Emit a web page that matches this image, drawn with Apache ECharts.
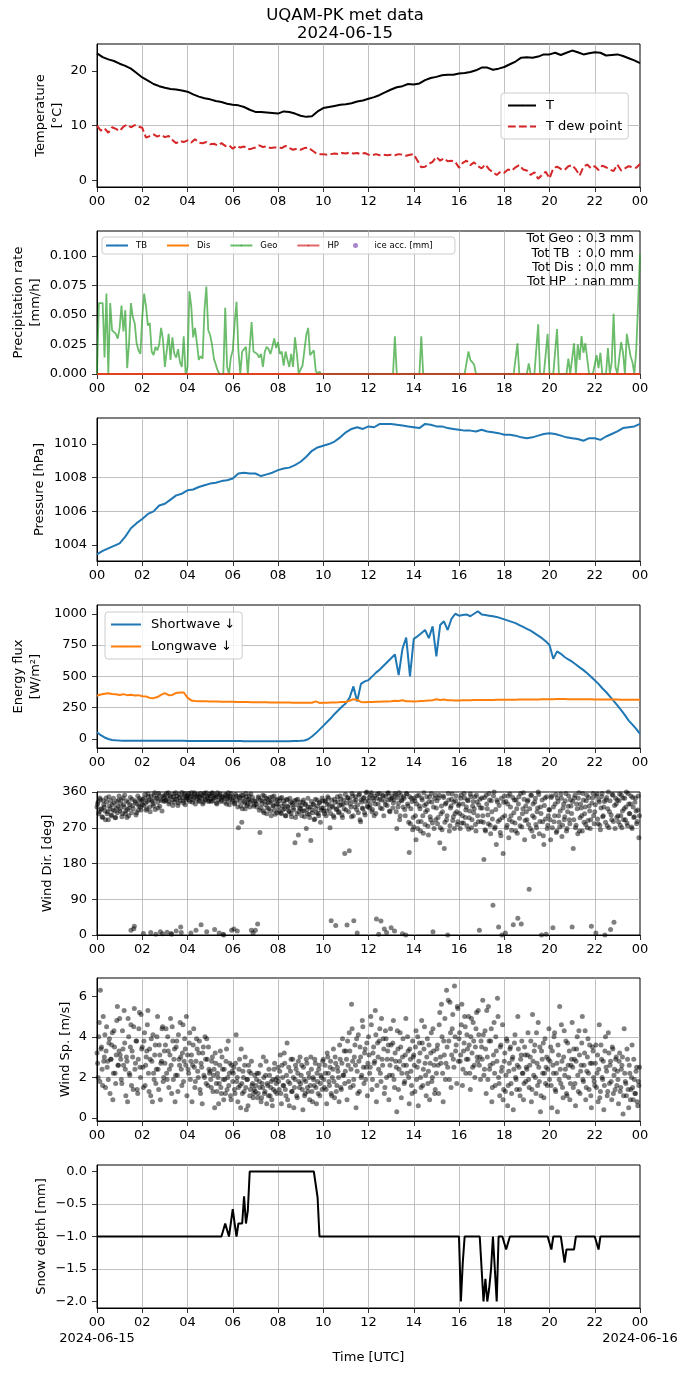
<!DOCTYPE html>
<html>
<head>
<meta charset="utf-8">
<script src="https://cdn.jsdelivr.net/npm/echarts@6/dist/echarts.min.js"></script>
<style>
html, body { margin: 0; padding: 0; background: #fff; }
#main { width: 690px; height: 1377px; }
</style>
</head>
<body>
<div id="main"></div>
<script>
var FONT = 'DejaVu Sans';

// temperature, every 15 min
var tempT = [
  23.2, 22.5, 22.1, 21.8,  21.3, 20.9, 20.4, 19.6,  18.8, 18.2, 17.6, 17.2,
  16.9, 16.7, 16.6, 16.4,  16.2, 15.7, 15.3, 15.0,  14.8, 14.5, 14.3, 14.0,
  13.8, 13.7, 13.4, 12.9,  12.5, 12.5, 12.4, 12.3,  12.2, 12.6, 12.5, 12.2,
  11.8, 11.6, 11.7, 12.6,  13.2, 13.4, 13.6, 13.8,  13.9, 14.1, 14.4, 14.6,
  14.9, 15.2, 15.6, 16.1,  16.6, 17.0, 17.2, 17.6,  17.5, 17.7, 18.3, 18.7,
  18.9, 19.2, 19.3, 19.3,  19.5, 19.6, 19.8, 20.1,  20.6, 20.6, 20.2, 20.4,
  20.7, 21.2, 21.7, 22.4,  22.5, 22.4, 22.6, 23.0,  23.0, 23.3, 22.9, 23.3,
  23.7, 23.4, 23.0, 23.2,  23.4, 23.3, 22.8, 22.9,  23.0, 22.7, 22.3, 21.9,
  21.4
];
// dew point, every 10 min
var tempDew = [
  10.0, 9.1, 9.5, 8.7, 9.7, 9.4,   9.0, 9.8, 10.2, 9.7, 10.1, 9.8,
  9.6, 7.8, 8.1, 8.4, 8.0, 8.3,    7.9, 8.1, 7.4, 6.8, 7.2, 7.0,
  7.3, 6.9, 7.5, 6.9, 6.8, 7.0,    6.6, 6.7, 6.4, 6.8, 6.3, 6.4,
  5.8, 6.3, 6.0, 6.2, 5.7, 5.8,    6.0, 6.4, 6.1, 6.2, 5.9, 6.0,
  6.0, 5.9, 6.3, 5.9, 5.6, 5.8,    5.6, 5.9, 6.0, 5.5, 5.0, 4.8,
  4.8, 4.7, 4.8, 4.9, 4.8, 5.0,    4.9, 5.1, 4.9, 5.0, 4.8, 5.0,
  4.7, 4.6, 4.8, 4.6, 4.7, 4.6,    4.7, 4.6, 4.8, 4.7, 4.5, 4.7,
  4.8, 3.6, 2.4, 2.5, 3.0, 3.4,    4.3, 3.6, 4.0, 3.5, 3.6, 3.4,
  2.3, 3.2, 3.6, 2.8, 3.3, 2.6,    2.2, 2.9, 2.0, 1.5, 1.0, 1.6,
  1.4, 2.0, 1.8, 2.4, 2.8, 2.0,    1.8, 1.0, 1.5, 0.3, 1.0, 1.6,
  0.4, 2.2, 2.5, 2.1, 1.9, 2.6,    2.8, 2.0, 0.9, 2.5, 2.9, 2.2,
  2.6, 1.9, 2.7, 2.4, 2.0, 1.7,    2.9, 1.8, 2.2, 2.6, 2.4, 2.3,
  3.0
];

// precipitation rate, every 5 min
var geoRate = [
  0, .060, .059, .060, .014, .068, 0, .060, .037, .036, .034, .030,
  .039, .058, .036, .054, .005, .026, .060, .048, .043, .026, .020, .017,
  .048, .068, .057, .041, .043, .019, .016, .023, .020, .025, .039, .029,
  .006, .005, .034, .012, .031, .017, .014, .021, .010, .006, .032, 0,
  .006, .070, .057, .031, .039, .026, .012, .015, .013, .054, .074, .037,
  .033, .025, .013, .012, .003, 0, 0, 0, .056, .006, 0, .014,
  .020, .043, .061, .020, 0, .019, .021, .023, 0, .023, .044, .019,
  .020, .017, .014, .017, .006, .019, .023, .021, .017, .023, .030, .022,
  .027, .017, .019, .007, .019, .012, .006, .017, .006, .031, .017, 0,
  .004, .007, .020, .033, .039, .016, .017, .020, .003, 0, .002, 0,
  0, 0, 0, 0, 0, 0, 0, 0, 0, 0, 0, 0,
  0, 0, 0, 0, 0, 0, 0, 0, 0, 0, 0, 0,
  0, 0, 0, 0, 0, 0, 0, 0, 0, 0, 0, 0,
  0, 0, .032, 0, 0, 0, 0, 0, 0, 0, 0, 0,
  0, 0, 0, 0, .032, 0, 0, 0, 0, 0, 0, 0,
  0, 0, 0, 0, 0, 0, 0, 0, 0, 0, 0, 0,
  0, 0, 0, 0, 0, .019, .012, .010, .008, 0, 0, 0,
  0, 0, 0, 0, 0, 0, 0, 0, 0, 0, 0, 0,
  0, 0, 0, 0, 0, 0, 0, .026, 0, 0, 0, 0,
  0, .009, 0, 0, 0, 0, .042, 0, 0, 0, 0, .034,
  0, 0, 0, 0, .038, 0, 0, 0, 0, 0, .013, 0,
  0, .026, 0, .025, .012, .032, .018, .026, .026, 0, 0, 0,
  0, .016, .005, .018, 0, 0, 0, .022, 0, .010, .051, .006,
  0, 0, .027, .018, 0, .034, .033, .015, .010, 0, .020, .060,
  .101
];
var zeroRate = [0, 0];   // TB, Dis, HP: flat zero from 00 to 24

// pressure, every 15 min
var pressure = [
  1003.45, 1003.65, 1003.80, 1003.95,  1004.10, 1004.50, 1005.00, 1005.30,
  1005.55, 1005.85, 1006.00, 1006.35,  1006.45, 1006.70, 1006.95, 1007.05,
  1007.25, 1007.30, 1007.45, 1007.55,  1007.65, 1007.70, 1007.80, 1007.85,
  1007.95, 1008.25, 1008.30, 1008.25,  1008.25, 1008.10, 1008.20, 1008.30,
  1008.45, 1008.55, 1008.60, 1008.75,  1008.95, 1009.25, 1009.60, 1009.80,
  1009.90, 1010.00, 1010.15, 1010.40,  1010.70, 1010.90, 1011.00, 1010.90,
  1011.05, 1011.00, 1011.20, 1011.20,  1011.20, 1011.15, 1011.10, 1011.05,
  1011.00, 1010.95, 1011.20, 1011.15,  1011.05, 1011.05, 1010.95, 1010.90,
  1010.85, 1010.80, 1010.80, 1010.75,  1010.85, 1010.75, 1010.70, 1010.65,
  1010.55, 1010.55, 1010.50, 1010.40,  1010.35, 1010.40, 1010.50, 1010.60,
  1010.65, 1010.60, 1010.50, 1010.40,  1010.35, 1010.30, 1010.20, 1010.35,
  1010.35, 1010.25, 1010.45, 1010.60,  1010.75, 1010.95, 1011.00, 1011.05,
  1011.20
];

// radiation, every 10 min
var swDown = [
  54, 30, 12, 0, -8, -11,        -13, -14, -14, -14, -14, -14,
  -14, -14, -14, -14, -14, -14,  -14, -14, -14, -14, -14, -15,
  -16, -16, -16, -16, -16, -16,  -16, -16, -17, -17, -17, -17,
  -17, -17, -17, -18, -18, -18,  -18, -18, -18, -18, -18, -18,
  -18, -18, -18, -18, -17, -17,  -15, -12, -2, 20, 45, 75,
  105, 135, 165, 200, 230, 260,  285, 330, 420, 300, 440, 460,
  470, 500, 530, 555, 585, 615,  645, 675, 510, 720, 810, 500,
  800, 820, 845, 870, 805, 900,  660, 910, 940, 870, 960, 1000,
  985, 990, 995, 980, 1000, 1020, 995, 990, 985, 980, 975, 965,
  955, 945, 935, 925, 910, 895,  880, 865, 845, 825, 805, 780,
  750, 640, 700, 680, 655, 635,  617, 595, 572, 550, 525, 497,
  469, 440, 405, 375, 340, 305,  268, 230, 190, 147, 115, 80,
  40
];
var lwDown = [
  345, 355, 362, 366, 360, 357,  352, 358, 350, 353, 348, 350,
  342, 340, 328, 326, 335, 352,  366, 350, 352, 368, 372, 371,
  330, 308, 304, 302, 302, 301,  300, 300, 299, 298, 298, 297,
  297, 296, 296, 295, 295, 294,  294, 294, 293, 293, 292, 292,
  292, 291, 291, 291, 290, 290,  290, 290, 289, 289, 300, 288,
  290, 290, 291, 292, 293, 295,  296, 305, 318, 312, 296, 294,
  295, 296, 297, 298, 299, 300,  301, 305, 303, 310, 302, 301,
  300, 301, 303, 305, 308, 310,  318, 312, 316, 310, 309, 308,
  308, 309, 310, 310, 311, 311,  311, 312, 312, 312, 313, 313,
  313, 313, 314, 314, 315, 315,  315, 315, 316, 316, 317, 317,
  318, 318, 319, 319, 319, 318,  318, 318, 317, 317, 317, 317,
  316, 316, 316, 315, 315, 315,  315, 314, 314, 314, 313, 313,
  313
];

// wind, every 3 min (20 per hour); the B lists sit 1.5 min later
var windDir = [
  322, 335, 310, 341, 318, 296, 328, 312, 345, 305, 290, 325, 338, 300, 315, 332, 295, 320, 308, 340,
  312, 330, 298, 345, 322, 305, 338, 316, 300, 328, 12, 342, 318, 22, 334, 308, 350, 325, 340, 315,
  328, 4, 345, 332, 318, 355, 340, 310, 350, 336, 325, 358, 2, 344, 320, 352, 8, 338, 3, 346,
  352, 340, 7, 358, 335, 348, 2, 326, 355, 342, 10, 350, 332, 346, 20, 359, 338, 352, 328, 345,
  345, 356, 336, 5, 350, 340, 358, 330, 348, 354, 338, 346, 26, 352, 334, 357, 342, 8, 350, 338,
  350, 336, 358, 344, 14, 352, 330, 348, 5, 355, 340, 346, 0, 334, 352, 343, 358, 328, 350, 12,
  340, 15, 332, 350, 10, 270, 345, 325, 284, 352, 336, 318, 348, 330, 342, 322, 355, 338, 5, 328,
  12, 330, 28, 345, 258, 320, 338, 312, 350, 328, 305, 342, 318, 335, 300, 348, 325, 315, 340, 308,
  330, 312, 345, 305, 325, 338, 318, 300, 342, 322, 310, 335, 298, 328, 315, 232, 340, 305, 252, 320,
  318, 300, 335, 312, 328, 268, 305, 322, 296, 238, 315, 330, 290, 342, 308, 325, 300, 335, 315, 345,
  320, 305, 338, 312, 348, 330, 270, 36, 325, 300, 342, 24, 318, 335, 310, 350, 328, 296, 340, 205,
  315, 25, 345, 212, 330, 298, 350, 36, 322, 340, 5, 308, 355, 285, 335, 318, 346, 302, 358, 325,
  338, 320, 352, 310, 345, 300, 330, 40, 355, 2, 342, 35, 318, 350, 15, 328, 6, 356, 340, 310,
  18, 345, 332, 10, 352, 268, 322, 358, 300, 340, 3, 348, 316, 0, 355, 325, 208, 280, 344, 265,
  272, 338, 240, 350, 285, 325, 262, 345, 300, 358, 278, 330, 315, 252, 348, 290, 335, 8, 268, 352,
  320, 280, 345, 232, 305, 265, 350, 218, 330, 290, 0, 340, 275, 325, 355, 298, 268, 338, 310, 285,
  330, 268, 352, 300, 282, 345, 315, 275, 338, 295, 355, 270, 325, 308, 348, 262, 335, 285, 12, 320,
  345, 300, 190, 265, 352, 318, 280, 340, 255, 310, 75, 360, 272, 228, 335, 20, 290, 250, 0, 205,
  350, 5, 270, 330, 245, 355, 300, 285, 26, 340, 262, 318, 42, 348, 275, 28, 305, 358, 240, 325,
  290, 340, 115, 268, 352, 300, 248, 335, 278, 310, 360, 255, 322, 0, 285, 228, 345, 2, 268, 300,
  315, 240, 350, 18, 285, 330, 258, 345, 300, 272, 355, 248, 320, 290, 338, 262, 310, 350, 280, 325,
  20, 218, 345, 270, 330, 255, 358, 295, 320, 262, 340, 305, 278, 352, 288, 325, 268, 22, 345, 300,
  310, 5, 355, 280, 335, 265, 348, 298, 322, 0, 340, 275, 360, 310, 14, 290, 352, 32, 268, 330,
  340, 285, 355, 300, 270, 345, 318, 290, 360, 275, 330, 305, 350, 268, 322, 298, 345, 280, 315, 245
];
var windDirB = [
  330, 305, 345, 316, 298, 338, 322, 290, 335, 310, 348, 318, 302, 328, 344, 312, 296, 336, 324, 350,
  318, 340, 306, 328, 352, 312, 296, 334, 320, 346, 308, 326, 16, 338, 302, 330, 314, 344, 322, 336,
  342, 326, 354, 314, 336, 348, 322, 6, 340, 330, 352, 316, 344, 334, 356, 324, 342, 312, 350, 336,
  338, 356, 344, 330, 352, 4, 340, 348, 334, 358, 342, 326, 354, 338, 6, 346, 332, 356, 340, 350,
  352, 340, 348, 358, 334, 346, 354, 12, 342, 350, 336, 356, 344, 330, 352, 340, 358, 346, 336, 354,
  342, 356, 338, 350, 346, 332, 358, 340, 352, 336, 348, 2, 344, 354, 330, 350, 340, 346, 356, 336,
  346, 330, 354, 340, 322, 348, 336, 352, 318, 344, 332, 356, 326, 340, 350, 334, 12, 346, 324, 338,
  336, 322, 348, 314, 340, 330, 352, 308, 336, 344, 320, 332, 346, 312, 338, 326, 350, 304, 330, 342,
  322, 338, 308, 346, 316, 330, 300, 340, 324, 312, 344, 306, 332, 320, 338, 296, 328, 342, 310, 334,
  326, 312, 340, 298, 330, 316, 344, 304, 322, 336, 308, 328, 292, 318, 340, 306, 332, 284, 320, 338,
  312, 336, 300, 328, 344, 318, 306, 340, 322, 296, 334, 316, 348, 308, 326, 342, 302, 330, 318, 354,
  332, 346, 310, 340, 322, 356, 300, 336, 348, 316, 328, 352, 290, 340, 320, 344, 308, 336, 360, 322,
  346, 328, 358, 316, 338, 350, 306, 344, 330, 356, 320, 340, 352, 300, 336, 348, 326, 358, 312, 342,
  350, 320, 340, 356, 310, 346, 332, 290, 352, 338, 322, 344, 300, 356, 330, 284, 348, 318, 336, 296,
  345, 300, 330, 268, 352, 318, 286, 340, 256, 326, 310, 348, 274, 336, 298, 356, 282, 322, 344, 290,
  338, 296, 352, 270, 325, 310, 346, 284, 332, 300, 356, 262, 320, 342, 288, 334, 306, 350, 278, 326,
  306, 344, 282, 330, 356, 296, 322, 340, 266, 312, 348, 290, 336, 318, 278, 352, 300, 328, 342, 286,
  320, 284, 346, 262, 330, 302, 356, 276, 338, 292, 350, 268, 316, 340, 286, 326, 258, 344, 296, 334,
  300, 336, 276, 350, 290, 322, 264, 346, 308, 282, 340, 256, 330, 294, 356, 272, 318, 342, 288, 310,
  336, 278, 318, 352, 262, 330, 296, 344, 270, 320, 354, 286, 306, 340, 250, 326, 292, 348, 276, 316,
  290, 346, 270, 322, 300, 354, 262, 336, 284, 312, 344, 276, 330, 298, 356, 268, 324, 290, 340, 306,
  336, 290, 352, 276, 318, 344, 262, 330, 300, 356, 284, 322, 338, 270, 346, 312, 290, 332, 356, 280,
  328, 350, 292, 340, 276, 320, 356, 300, 336, 284, 346, 318, 270, 338, 302, 354, 286, 326, 344, 296,
  300, 338, 276, 352, 312, 290, 344, 322, 282, 356, 306, 330, 272, 346, 296, 334, 312, 286, 350, 300
];
var windSpd = [
  3.2, 2.0, 4.7, 6.3, 3.5, 1.6, 2.8, 4.1, 3.3, 2.5, 1.9, 3.9, 2.9, 3.6, 0.9, 4.3, 2.2, 3.1, 5.5, 2.6,
  4.9, 2.9, 1.7, 3.4, 5.3, 2.4, 3.0, 0.8, 4.0, 2.1, 4.6, 3.3, 1.4, 5.4, 2.7, 3.8, 1.2, 4.4, 2.5, 5.1,
  3.5, 1.5, 4.2, 2.6, 3.3, 5.3, 1.3, 2.9, 3.9, 0.8, 2.2, 3.1, 1.7, 4.0, 2.4, 3.6, 0.9, 2.8, 4.5, 2.0,
  2.7, 4.4, 1.9, 3.3, 2.4, 4.9, 1.2, 3.8, 2.9, 0.8, 3.5, 2.1, 4.1, 2.6, 3.0, 1.6, 4.6, 2.8, 3.4, 5.0,
  3.1, 2.2, 4.2, 2.8, 0.8, 3.6, 2.5, 1.8, 3.9, 2.3, 3.2, 1.4, 2.7, 0.7, 3.5, 2.0, 2.9, 3.9, 1.6, 2.4,
  2.3, 1.5, 3.0, 2.1, 0.5, 2.7, 1.3, 2.0, 1.7, 3.3, 1.2, 2.4, 0.9, 1.9, 2.8, 1.4, 3.8, 2.2, 1.1, 2.6,
  1.8, 2.5, 1.2, 4.1, 2.0, 1.5, 2.9, 0.5, 1.7, 2.3, 1.3, 3.0, 0.4, 1.9, 2.6, 1.1, 2.2, 1.6, 1.0, 1.4,
  1.3, 1.9, 1.0, 2.2, 1.5, 0.8, 1.7, 3.0, 1.2, 2.1, 0.7, 1.6, 2.4, 1.1, 1.8, 0.6, 1.4, 2.7, 1.9, 1.2,
  2.5, 1.4, 3.1, 0.7, 2.0, 1.6, 2.7, 1.1, 3.7, 1.8, 0.6, 2.3, 1.3, 2.9, 0.5, 1.9, 2.4, 1.0, 2.8, 1.5,
  1.7, 2.6, 0.4, 1.9, 1.2, 2.9, 1.5, 2.2, 0.9, 3.0, 1.3, 2.0, 1.6, 2.7, 0.7, 1.8, 2.4, 1.1, 2.1, 1.4,
  2.9, 1.5, 2.2, 0.7, 3.0, 1.8, 2.5, 1.2, 2.0, 3.4, 1.0, 2.7, 1.6, 2.3, 0.8, 2.9, 1.4, 3.9, 2.1, 1.7,
  3.3, 0.9, 2.6, 4.2, 1.5, 5.6, 2.8, 1.9, 3.6, 0.5, 2.3, 4.1, 1.3, 3.0, 2.1, 4.5, 1.7, 3.4, 2.5, 1.1,
  4.0, 2.2, 5.0, 1.4, 3.2, 2.7, 5.3, 0.8, 3.7, 2.4, 4.4, 1.8, 2.9, 3.9, 1.2, 4.3, 2.0, 3.3, 0.9, 2.6,
  3.6, 2.1, 4.8, 1.5, 2.8, 0.3, 3.4, 2.4, 4.2, 1.0, 3.0, 2.6, 1.8, 4.9, 2.2, 3.3, 0.7, 2.9, 1.6, 3.8,
  3.1, 1.3, 4.3, 2.5, 0.6, 3.7, 2.0, 4.8, 1.6, 3.4, 2.7, 1.1, 3.9, 2.3, 0.9, 3.2, 1.8, 4.4, 2.6, 1.4,
  2.2, 3.6, 1.2, 5.2, 2.7, 4.0, 0.8, 3.1, 1.9, 6.3, 2.5, 3.8, 5.7, 1.5, 4.4, 2.9, 6.5, 3.3, 1.7, 5.4,
  3.9, 2.8, 4.6, 1.6, 3.3, 5.0, 2.2, 4.1, 2.9, 3.6, 1.4, 4.9, 2.5, 3.8, 2.0, 4.4, 3.0, 5.3, 2.6, 1.9,
  3.5, 5.8, 2.1, 4.3, 1.2, 3.0, 5.5, 2.4, 3.8, 0.8, 2.7, 4.7, 1.6, 3.3, 5.9, 2.0, 1.1, 3.6, 2.5, 0.9,
  2.8, 1.3, 3.9, 0.6, 2.3, 3.4, 1.7, 2.9, 0.4, 3.7, 2.0, 1.4, 5.0, 2.5, 1.1, 3.1, 2.2, 0.9, 3.5, 1.8,
  2.4, 4.2, 1.5, 3.0, 0.8, 5.1, 2.1, 3.6, 1.2, 2.7, 4.7, 1.8, 0.3, 3.3, 2.2, 1.0, 3.9, 2.5, 1.6, 2.9,
  1.9, 3.5, 0.5, 2.6, 4.0, 1.4, 2.2, 0.3, 3.1, 5.5, 1.7, 2.8, 1.0, 4.3, 2.4, 1.2, 3.7, 2.0, 0.9, 2.6,
  4.7, 1.5, 2.9, 0.6, 3.4, 2.1, 4.3, 1.2, 2.6, 5.0, 1.8, 3.2, 0.9, 2.3, 3.9, 1.4, 2.7, 0.5, 3.5, 2.0,
  1.6, 3.6, 2.2, 0.8, 4.6, 1.3, 2.9, 1.9, 0.4, 3.3, 2.5, 1.1, 4.2, 1.7, 2.8, 0.9, 3.4, 2.1, 1.4, 3.0,
  2.3, 0.7, 3.2, 1.5, 2.6, 0.2, 4.4, 1.8, 1.1, 2.9, 0.5, 2.2, 1.4, 3.6, 0.9, 1.9, 1.2, 2.5, 0.6, 1.6
];
var windSpdB = [
  2.7, 4.0, 1.8, 3.4, 2.4, 5.0, 3.0, 1.5, 4.5, 2.8, 3.7, 1.2, 2.9, 4.2, 2.2, 3.5, 1.7, 4.8, 2.6, 3.3,
  3.1, 1.9, 4.3, 2.6, 3.7, 1.1, 2.8, 4.9, 2.2, 3.5, 1.6, 3.0, 4.5, 2.4, 3.8, 1.4, 2.9, 5.2, 2.0, 3.4,
  2.5, 3.8, 1.6, 3.0, 4.6, 2.2, 3.4, 1.1, 2.8, 4.1, 1.9, 3.6, 2.4, 5.0, 1.4, 3.1, 2.7, 4.4, 1.8, 3.3,
  3.6, 2.2, 4.0, 1.5, 3.1, 2.6, 4.5, 1.9, 3.4, 2.1, 3.8, 1.3, 2.9, 4.7, 2.4, 3.2, 1.8, 3.9, 2.6, 1.1,
  2.4, 3.7, 1.9, 3.1, 2.6, 4.4, 1.5, 2.8, 3.4, 2.0, 3.8, 1.2, 2.5, 3.2, 2.1, 4.0, 1.7, 2.9, 3.5, 2.2,
  1.9, 2.8, 1.3, 2.4, 3.2, 1.7, 2.2, 0.7, 2.6, 1.5, 3.0, 1.9, 2.4, 1.2, 3.4, 2.0, 1.6, 2.7, 0.9, 2.3,
  2.2, 1.4, 2.7, 1.8, 0.8, 2.4, 1.6, 3.4, 1.2, 2.0, 2.6, 1.5, 1.9, 0.6, 2.3, 1.4, 2.8, 1.7, 1.2, 2.1,
  1.6, 2.2, 1.2, 1.8, 2.6, 1.0, 1.5, 2.0, 1.3, 2.8, 1.7, 1.1, 2.1, 1.5, 0.9, 1.9, 2.4, 1.3, 1.7, 2.0,
  1.8, 2.3, 1.2, 2.6, 1.6, 3.2, 1.4, 2.1, 0.9, 2.5, 1.7, 2.9, 1.3, 2.0, 1.5, 2.6, 1.1, 2.2, 1.8, 3.0,
  2.1, 1.4, 2.5, 1.1, 1.8, 2.7, 1.3, 2.0, 1.6, 2.4, 0.8, 1.9, 2.9, 1.5, 2.2, 1.2, 2.6, 1.7, 2.0, 2.8,
  1.9, 2.6, 1.4, 3.2, 2.2, 1.6, 2.8, 1.1, 2.4, 1.8, 3.0, 1.3, 2.5, 2.0, 3.6, 1.5, 2.7, 2.1, 3.3, 2.3,
  2.9, 3.8, 1.8, 3.3, 2.4, 4.4, 1.6, 3.0, 2.6, 3.9, 1.2, 2.8, 3.5, 2.0, 4.8, 2.5, 3.2, 1.9, 3.7, 2.7,
  3.1, 2.5, 4.6, 1.9, 3.5, 2.8, 4.1, 1.6, 3.0, 3.8, 2.2, 4.9, 2.6, 3.4, 1.5, 3.9, 2.9, 3.6, 2.1, 4.4,
  2.9, 3.7, 1.9, 3.2, 2.5, 4.3, 1.4, 2.8, 3.5, 2.2, 3.9, 1.7, 3.1, 2.6, 4.0, 2.0, 3.4, 2.3, 1.2, 3.0,
  2.6, 3.5, 1.9, 4.0, 2.8, 3.2, 1.5, 3.7, 2.4, 4.5, 2.1, 3.0, 1.7, 3.6, 2.7, 4.2, 2.0, 3.3, 1.2, 2.9,
  3.4, 2.6, 4.6, 3.0, 5.6, 2.2, 3.8, 4.9, 2.7, 3.5, 5.8, 1.9, 4.2, 3.1, 5.1, 2.5, 4.0, 3.6, 5.5, 2.8,
  4.2, 3.1, 5.6, 2.4, 3.7, 4.5, 2.9, 3.4, 5.0, 2.2, 4.0, 3.2, 4.7, 2.6, 3.5, 5.2, 2.8, 4.1, 3.0, 3.8,
  2.9, 4.1, 2.4, 3.4, 5.3, 1.9, 3.8, 2.6, 4.4, 1.5, 3.1, 2.2, 4.0, 2.8, 5.0, 1.7, 3.5, 2.3, 4.6, 1.4,
  3.2, 2.1, 3.8, 1.6, 2.7, 3.5, 1.2, 3.0, 2.4, 4.1, 1.9, 2.6, 3.4, 1.4, 2.9, 3.8, 2.2, 1.7, 3.1, 2.5,
  3.1, 1.9, 2.6, 3.8, 1.4, 2.8, 3.3, 2.0, 4.2, 1.6, 2.5, 3.5, 1.1, 2.9, 3.7, 2.2, 1.7, 3.0, 2.4, 4.4,
  2.8, 1.6, 3.3, 2.2, 4.2, 1.3, 2.7, 3.6, 1.9, 2.4, 4.6, 1.5, 3.0, 2.1, 3.8, 1.1, 2.6, 3.3, 1.7, 2.9,
  2.5, 3.4, 1.7, 2.8, 4.0, 1.3, 3.1, 2.3, 3.7, 1.9, 2.6, 4.3, 1.5, 3.0, 2.2, 3.6, 1.1, 2.7, 3.3, 1.8,
  2.7, 1.5, 3.1, 2.4, 1.0, 3.6, 2.0, 2.8, 1.6, 4.0, 2.3, 1.3, 3.2, 2.6, 1.8, 3.5, 1.2, 2.4, 2.9, 1.6,
  1.9, 2.8, 1.3, 2.4, 3.0, 1.1, 2.2, 1.7, 3.4, 1.4, 2.6, 0.9, 2.0, 1.5, 2.9, 1.2, 2.3, 0.8, 1.8, 2.5
];

// snow depth, every 5 min
var snowDepth = [
  -1, -1, -1, -1, -1, -1, -1, -1, -1, -1, -1, -1,
  -1, -1, -1, -1, -1, -1, -1, -1, -1, -1, -1, -1,
  -1, -1, -1, -1, -1, -1, -1, -1, -1, -1, -1, -1,
  -1, -1, -1, -1, -1, -1, -1, -1, -1, -1, -1, -1,
  -1, -1, -1, -1, -1, -1, -1, -1, -1, -1, -1, -1,
  -1, -1, -1, -1, -1, -1, -1, -1, -0.8, -0.8, -1, -1,
  -0.58, -0.8, -1, -0.8, -0.8, -0.8, -0.38, -0.8, -0.6, 0, 0, 0,
  0, 0, 0, 0, 0, 0, 0, 0, 0, 0, 0, 0,
  0, 0, 0, 0, 0, 0, 0, 0, 0, 0, 0, 0,
  0, 0, 0, 0, 0, 0, 0, 0, 0, -0.4, -1, -1,
  -1, -1, -1, -1, -1, -1, -1, -1, -1, -1, -1, -1,
  -1, -1, -1, -1, -1, -1, -1, -1, -1, -1, -1, -1,
  -1, -1, -1, -1, -1, -1, -1, -1, -1, -1, -1, -1,
  -1, -1, -1, -1, -1, -1, -1, -1, -1, -1, -1, -1,
  -1, -1, -1, -1, -1, -1, -1, -1, -1, -1, -1, -1,
  -1, -1, -1, -1, -1, -1, -1, -1, -1, -1, -1, -1,
  -1, -2, -1.4, -1, -1, -1, -1, -1, -1, -1, -1, -1,
  -1, -2, -1.65, -2, -1.8, -1.5, -1, -1, -2, -1, -1, -1,
  -1, -1.2, -1.2, -1, -1, -1, -1, -1, -1, -1, -1, -1,
  -1, -1, -1, -1, -1, -1, -1, -1, -1, -1, -1, -1,
  -1, -1.2, -1, -1, -1, -1, -1, -1.2, -1.4, -1.2, -1.2, -1.2,
  -1.2, -1.2, -1, -1, -1, -1, -1, -1, -1, -1, -1, -1,
  -1, -1, -1.2, -1, -1, -1, -1, -1, -1, -1, -1, -1,
  -1, -1, -1, -1, -1, -1, -1, -1, -1, -1, -1, -1,
  -1
];
var dateLabels = ['2024-06-15', '2024-06-16'];

function timed(values, stepHours, offset) {
  return values.map(function (v, i) { return [i * stepHours + (offset || 0), v]; });
}
function hh(v) { var h = v % 24; return (h < 10 ? '0' : '') + h; }
function minus(s) { return String(s).replace('-', '\u2212'); }

var chart = echarts.init(document.getElementById('main'), null, { renderer: 'canvas' });

var tops = [44, 231, 418, 605, 792, 978, 1165];
var axisText = { color: '#000', fontSize: 13, fontFamily: FONT };
var tick = { show: true, length: 5, lineStyle: { color: '#000', width: 0.8 } };
var gridLine = { show: true, showMinLine: false, showMaxLine: false, lineStyle: { color: '#b0b0b0', width: 0.8 } };

var grids = tops.map(function (t) {
  return { left: 97, width: 543, top: t, height: 143, show: true, borderColor: '#000', borderWidth: 1,
           backgroundColor: 'transparent', containLabel: false, outerBoundsMode: 'none' };
});

var xAxes = tops.map(function (t, i) {
  var last = i === tops.length - 1;
  return {
    type: 'value', gridIndex: i, min: 0, max: 24, interval: 2, position: 'bottom',
    axisLine: { show: true, onZero: false, lineStyle: { color: '#000', width: 1 } },
    axisTick: tick,
    axisLabel: { color: '#000', fontSize: 13, fontFamily: FONT, margin: 6, lineHeight: 16.5,
                 showMinLabel: true, showMaxLabel: true, formatter: hh },
    splitLine: gridLine,
    name: last ? 'Time [UTC]' : '', nameLocation: 'middle', nameGap: 43, nameMoveOverlap: false,
    nameTextStyle: axisText
  };
});
// date line under the first and last hour of the bottom panel
xAxes.push({
  type: 'value', gridIndex: 6, min: 0, max: 24, position: 'bottom',
  axisLine: { show: false, onZero: false }, axisTick: { show: false }, splitLine: { show: false },
  axisLabel: { color: '#000', fontSize: 13, fontFamily: FONT, margin: 22.5, lineHeight: 16.5,
               customValues: [0, 24], showMinLabel: true, showMaxLabel: true,
               formatter: function (v) { return v === 0 ? dateLabels[0] : dateLabels[1]; } }
});

function yAxis(i, name, gap, min, max, ticks, fmt) {
  return {
    type: 'value', gridIndex: i, min: min, max: max,
    axisLine: { show: true, onZero: false, lineStyle: { color: '#000', width: 1 } },
    axisTick: { show: true, length: 5, lineStyle: { color: '#000', width: 0.8 }, customValues: ticks },
    axisLabel: { color: '#000', fontSize: 13, fontFamily: FONT, margin: 10, customValues: ticks,
                 formatter: fmt || function (v) { return String(v); } },
    splitLine: gridLine,
    name: name, nameLocation: 'middle', nameGap: gap, nameMoveOverlap: false,
    nameTextStyle: { color: '#000', fontSize: 13, fontFamily: FONT, lineHeight: 17 }
  };
}

var yAxes = [
  yAxis(0, 'Temperature\n[°C]', 31, -1.2, 24.9, [0, 10, 20]),
  yAxis(1, 'Precipitation rate\n[mm/h]', 53, 0, 0.121, [0, 0.025, 0.05, 0.075, 0.1],
        function (v) { return v.toFixed(3); }),
  yAxis(2, 'Pressure [hPa]', 49, 1003.05, 1011.55, [1004, 1006, 1008, 1010]),
  yAxis(3, 'Energy flux\n[W/m\u00b2]', 53, -72, 1070, [0, 250, 500, 750, 1000]),
  yAxis(4, 'Wind Dir. [deg]', 41, 0, 360, [0, 90, 180, 270, 360]),
  yAxis(5, 'Wind Sp. [m/s]', 23, -0.15, 6.9, [0, 2, 4, 6]),
  yAxis(6, 'Snow depth [mm]', 47, -2.1, 0.1, [-2, -1.5, -1, -0.5, 0],
        function (v) { return minus(v.toFixed(1)); })
];

function line(name, idx, data, color, extra) {
  var s = {
    name: name, type: 'line', xAxisIndex: idx, yAxisIndex: idx, data: data,
    symbol: 'none', showSymbol: false, animation: false, color: color,
    lineStyle: { color: color, width: 2 }
  };
  if (extra) Object.keys(extra).forEach(function (k) { s.lineStyle[k] = extra[k]; });
  return s;
}
function dots(name, idx, data) {
  return {
    name: name, type: 'scatter', xAxisIndex: idx, yAxisIndex: idx, data: data,
    symbol: 'circle', symbolSize: 5, animation: false,
    itemStyle: { color: '#000', opacity: 0.5 }
  };
}

var series = [
  line('T', 0, timed(tempT, 0.25), '#000000'),
  line('T dew point', 0, timed(tempDew, 1 / 6), '#d62728', { type: [7.7, 3.3] }),
  line('TB', 1, timed(zeroRate, 24), '#1f77b4'),
  line('Dis', 1, timed(zeroRate, 24), '#ff7f0e'),
  line('Geo', 1, timed(geoRate, 1 / 12), '#2ca02c', { opacity: 0.7, width: 1.8 }),
  line('HP', 1, timed(zeroRate, 24), '#d62728', { opacity: 0.7 }),
  { name: 'ice acc. [mm]', type: 'scatter', xAxisIndex: 1, yAxisIndex: 1, data: [],
    symbolSize: 5, color: '#9467bd', animation: false },
  line('Pressure', 2, timed(pressure, 0.25), '#1f77b4'),
  line('Shortwave \u2193', 3, timed(swDown, 1 / 6), '#1f77b4'),
  line('Longwave \u2193', 3, timed(lwDown, 1 / 6), '#ff7f0e'),
  dots('Wind Dir.', 4, timed(windDir, 0.05).concat(timed(windDirB, 0.05, 0.025))),
  dots('Wind Sp.', 5, timed(windSpd, 0.05).concat(timed(windSpdB, 0.05, 0.025))),
  line('Snow depth', 6, timed(snowDepth, 1 / 12), '#000000')
];

var boxStyle = { backgroundColor: 'rgba(255,255,255,0.8)', borderColor: '#cccccc', borderWidth: 1, borderRadius: 3 };
function legend(opts) {
  var base = { selectedMode: false, orient: 'vertical', itemWidth: 28, itemHeight: 2,
               textStyle: { color: '#000', fontSize: 13, fontFamily: FONT, padding: [0, 0, 0, 5] } };
  Object.keys(opts).forEach(function (k) { base[k] = opts[k]; });
  return base;
}

var smallText = { color: '#000', fontSize: 8.5, fontFamily: FONT, padding: [0, 0, 0, 3] };

chart.setOption({
  backgroundColor: '#ffffff',
  animation: false,
  textStyle: { fontFamily: FONT },
  title: {
    text: 'UQAM-PK met data\n2024-06-15', left: 'center', top: 7, padding: 0,
    textStyle: { color: '#000', fontSize: 16.5, fontWeight: 'normal', fontFamily: FONT, lineHeight: 17.5 }
  },
  grid: grids,
  xAxis: xAxes,
  yAxis: yAxes,
  legend: [
    legend(Object.assign({ data: ['T', 'T dew point'], left: 501, top: 93, padding: [6, 6, 6, 6], itemGap: 8 }, boxStyle)),
    legend(Object.assign({ data: ['TB', 'Dis', 'Geo', 'HP'], orient: 'horizontal', left: 102, top: 237,
      padding: [4, 116, 4, 3], itemWidth: 22, itemGap: 19, textStyle: smallText }, boxStyle)),
    legend({ data: ['ice acc. [mm]'], orient: 'horizontal', left: 353, top: 241, padding: 0,
      itemWidth: 22, itemHeight: 5, textStyle: smallText, z: 10 }),
    legend(Object.assign({ data: ['Shortwave \u2193', 'Longwave \u2193'], left: 105, top: 612,
      padding: [6, 7, 6, 5], itemWidth: 30, itemGap: 9 }, boxStyle))
  ],
  graphic: {
    elements: [{
      type: 'text', x: 634, y: 232, z: 100,
      style: {
        text: 'Tot Geo : 0.3 mm\nTot TB  : 0.0 mm\nTot Dis : 0.0 mm\nTot HP  : nan mm',
        align: 'right', verticalAlign: 'top', fontSize: 12.5, fontFamily: FONT, lineHeight: 14.2, fill: '#000'
      }
    }]
  },
  series: series
});
</script>
</body>
</html>
